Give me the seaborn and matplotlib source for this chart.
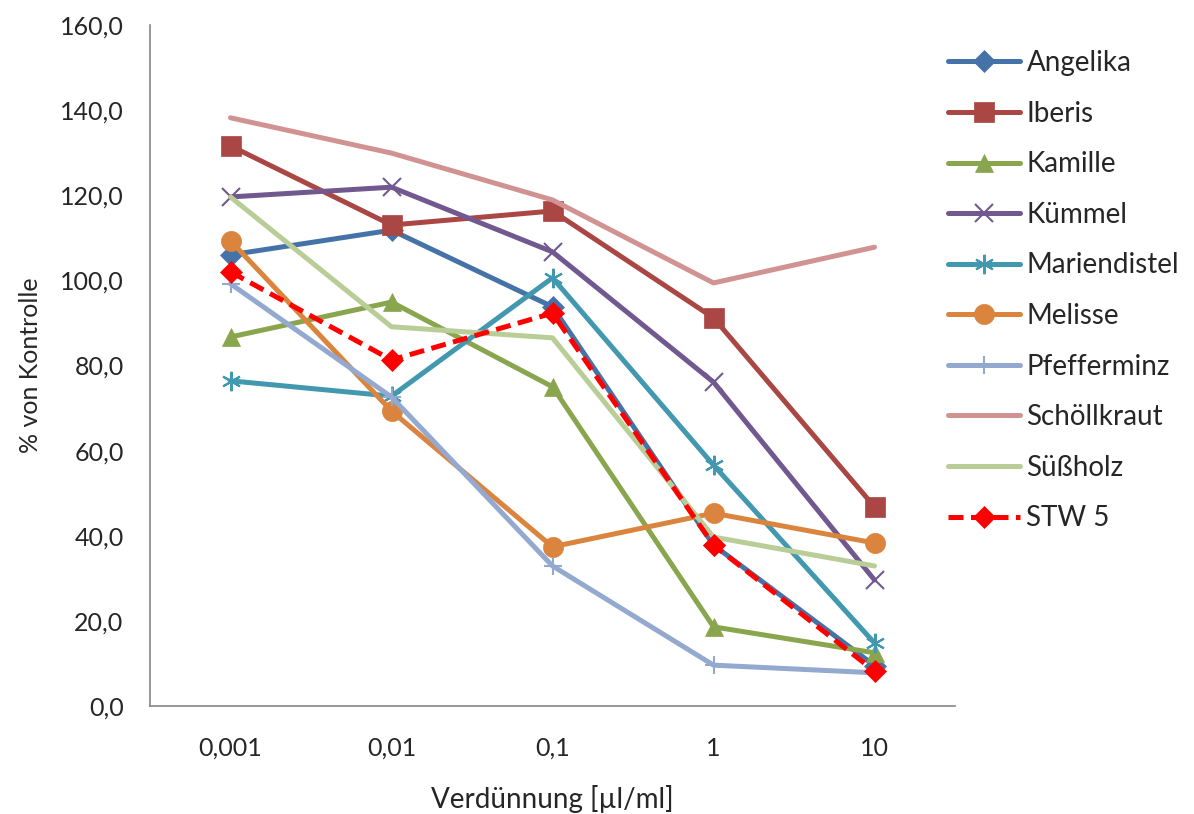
import matplotlib
matplotlib.use("Agg")
import matplotlib.pyplot as plt
import seaborn as sns
import numpy as np
import pandas as pd

categories = ["0,001", "0,01", "0,1", "1", "10"]
angelika = [106.0, 111.8, 93.8, 37.8, 9.5]
iberis = [131.6, 113.0, 116.3, 91.2, 46.8]
kamille = [86.7, 94.9, 75.0, 18.6, 12.5]
kuemmel = [119.6, 121.9, 106.7, 76.1, 29.6]
mariendistel = [76.4, 72.8, 100.6, 56.6, 14.8]
melisse = [109.3, 69.3, 37.4, 45.3, 38.3]
pfefferminz = [99.2, 72.6, 32.9, 9.6, 7.8]
schoellkraut = [138.2, 129.9, 118.9, 99.4, 107.8]
suessholz = [119.6, 89.1, 86.5, 39.7, 32.9]
stw5 = [102.0, 81.3, 92.3, 37.8, 8.2]

series = [
    ("Angelika", angelika, "#4572A7", "D", 11.5, "-"),
    ("Iberis", iberis, "#AA4643", "s", 14, "-"),
    ("Kamille", kamille, "#89A54E", "^", 13.5, "-"),
    ("Kümmel", kuemmel, "#71588F", "x", 13, "-"),
    ("Mariendistel", mariendistel, "#4198AF", (6, 2, 0), 14, "-"),
    ("Melisse", melisse, "#DB843D", "o", 14.5, "-"),
    ("Pfefferminz", pfefferminz, "#93A9CF", "+", 13, "-"),
    ("Schöllkraut", schoellkraut, "#D19392", None, 0, "-"),
    ("Süßholz", suessholz, "#B9CD96", None, 0, "-"),
    ("STW 5", stw5, "#FF0000", "D", 11.5, "--"),
]

sns.set_theme(style="white")
plt.rcParams["font.family"] = ["Lato", "DejaVu Sans"]

fig = plt.figure(figsize=(11.94, 8.14), dpi=100)
ax = fig.add_axes([150 / 1194, 108 / 814, 805 / 1194, 681 / 814])

xpos = np.arange(len(categories))
for name, vals, color, marker, ms, ls in series:
    df = pd.DataFrame({"x": xpos, "y": vals})
    thin = marker in ("x", "+", (6, 2, 0))
    sns.lineplot(data=df, x="x", y="y", ax=ax, color=color, linewidth=3.6,
                 linestyle=ls, marker=marker if marker is not None else "",
                 markersize=ms, markeredgecolor=color, markerfacecolor=color,
                 markeredgewidth=1.5 if thin else 0.5, label=name,
                 sort=False)

for line in ax.get_lines():
    if line.get_label() == "STW 5":
        line.set_dashes([3, 1.5])

ax.set_xlim(-0.5, 4.5)
ax.set_ylim(0, 160)
yt = np.arange(0, 161, 20)
ax.set_yticks(yt)
ax.set_yticklabels([f"{v:.1f}".replace(".", ",") for v in yt])
ax.set_xticks(np.arange(-0.5, 4.6, 1.0))
ax.set_xticklabels([""] * 6)
ax.set_xticks(xpos, minor=True)
ax.set_xticklabels(categories, minor=True)
ax.tick_params(axis="x", which="minor", length=0, pad=22, labelsize=18)
ax.tick_params(axis="x", which="major", length=6, width=1.2, color="#868686", direction="out")
ax.tick_params(axis="y", length=6, width=1.2, color="#868686", direction="out", labelsize=18, pad=13)
for s in ["top", "right"]:
    ax.spines[s].set_visible(False)
for s in ["left", "bottom"]:
    ax.spines[s].set_color("#868686")
    ax.spines[s].set_linewidth(1.2)
ax.grid(False)

ax.set_xlabel("Verdünnung [µl/ml]", fontsize=20)
ax.set_ylabel("% von Kontrolle", fontsize=18)
ax.xaxis.set_label_coords(0.5, (706 - 785) / 681)
ax.yaxis.set_label_coords((42 - 150) / 805, 0.5)

ax.get_legend().remove()
h, l = ax.get_legend_handles_labels()
fig.legend(h, l, loc="upper left", bbox_to_anchor=(937 / 1194, 1 - 39 / 814),
           frameon=False, fontsize=20, handlelength=2.6, handletextpad=0.22,
           labelspacing=0.885, borderaxespad=0)

fig.savefig("out.png", dpi=100)
